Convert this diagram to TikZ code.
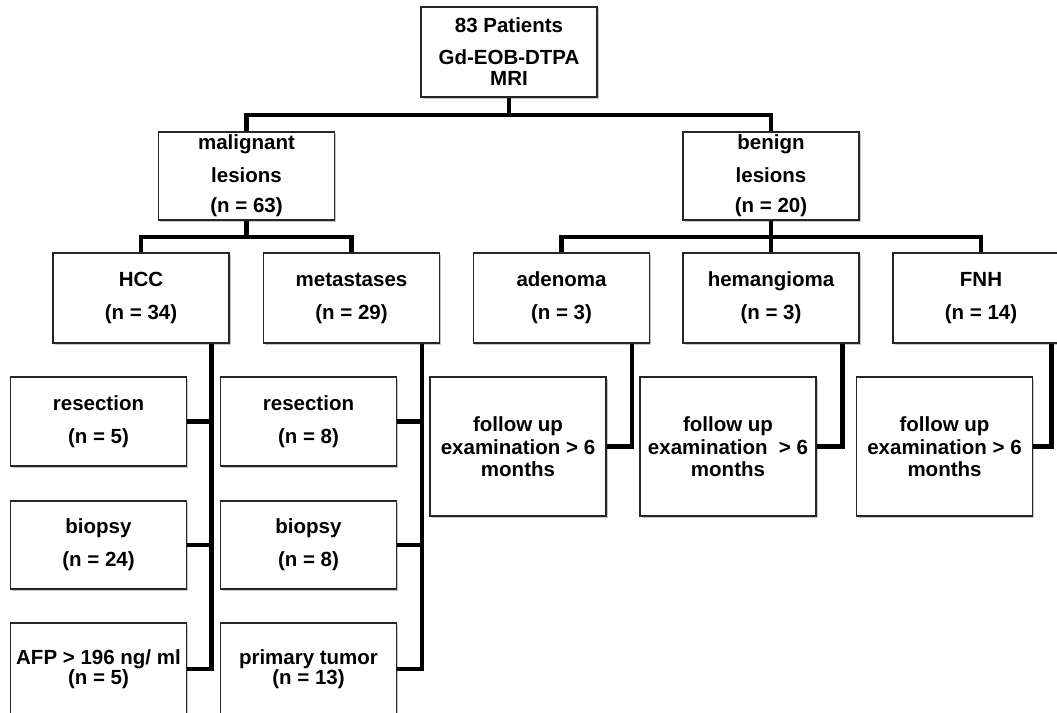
\documentclass[tikz,border=0pt]{standalone}
\usepackage{fontspec}
\setmainfont{Liberation Sans}
\usetikzlibrary{shadows,backgrounds}
\begin{document}
\begin{tikzpicture}[x=1pt,y=-1pt,
  box/.style={draw=black!85, line width=1.1pt, fill=white, inner sep=0pt, align=center,
    font=\fontsize{20.5}{21}\selectfont\bfseries,
    drop shadow={shadow xshift=1.5pt, shadow yshift=-2pt, fill=black, opacity=0.22}},
  wbox/.style={box, minimum width=176pt},
  conn/.style={line width=4.5pt, line join=miter, draw=black}]
\useasboundingbox (0,0) rectangle (1057,712);
\begin{scope}
\clip (0,0) rectangle (1057,712);
% level 0
\node[wbox, minimum height=90pt] (top) at (509,52) {83 Patients\\[11pt]Gd-EOB-DTPA\\MRI};
% level 1
\node[wbox, minimum height=88pt] (mal) at (246.5,176) {malignant\\[12pt]lesions\\[9pt](n = 63)};
\node[wbox, minimum height=88pt] (ben) at (771,176) {benign\\[12pt]lesions\\[9pt](n = 20)};
% level 2
\node[wbox, minimum height=90pt] (hcc) at (141,298) {HCC\\[12pt](n = 34)};
\node[wbox, minimum height=90pt] (met) at (351.5,298) {metastases\\[12pt](n = 29)};
\node[wbox, minimum height=90pt] (ade) at (561.5,298) {adenoma\\[12pt](n = 3)};
\node[wbox, minimum height=90pt] (hem) at (771,298) {hemangioma\\[12pt](n = 3)};
\node[wbox, minimum height=90pt] (fnh) at (981,298) {FNH\\[12pt](n = 14)};
% level 3, HCC
\node[wbox, minimum height=89pt] (res1) at (98.5,421.5) {resection\\[12pt](n = 5)};
\node[wbox, minimum height=88pt] (bio1) at (98.5,545) {biopsy\\[12pt](n = 24)};
\node[wbox, minimum height=92pt] (afp) at (98.5,669) {AFP > 196 ng/ ml\\[-1pt](n = 5)};
% level 3, metastases
\node[wbox, minimum height=89pt] (res2) at (308.5,421.5) {resection\\[12pt](n = 8)};
\node[wbox, minimum height=88pt] (bio2) at (308.5,545) {biopsy\\[12pt](n = 8)};
\node[wbox, minimum height=92pt] (pri) at (308.5,669) {primary tumor\\[-1pt](n = 13)};
% follow up
\node[wbox, minimum height=139pt] (fu1) at (518,446.5) {follow up\\[2pt]examination > 6\\[1pt]months};
\node[wbox, minimum height=139pt] (fu2) at (728,446.5) {follow up\\[2pt]examination\ \ > 6\\[1pt]months};
\node[wbox, minimum height=139pt] (fu3) at (944.5,446.5) {follow up\\[2pt]examination > 6\\[1pt]months};
\end{scope}
\begin{scope}[on background layer]
\coordinate (j0) at (509,115);
\coordinate (j1) at (246.5,237);
\coordinate (j2) at (771,237);
\draw[conn] (top.south) -- (j0) -| (mal.north);
\draw[conn] (j0) -| (ben.north);
\draw[conn] (mal.south) -- (j1) -| (hcc.north);
\draw[conn] (j1) -| (met.north);
\draw[conn] (ben.south) -- (j2) -| (ade.north);
\draw[conn] (j2) -| (fnh.north);
\draw[conn] (j2) -- (hem.north);
\draw[conn] ([xshift=-18pt]hcc.south east) |- (res1.east);
\draw[conn] ([xshift=-18pt]hcc.south east) |- (bio1.east);
\draw[conn] ([xshift=-18pt]hcc.south east) |- (afp.east);
\draw[conn] ([xshift=-18pt]met.south east) |- (res2.east);
\draw[conn] ([xshift=-18pt]met.south east) |- (bio2.east);
\draw[conn] ([xshift=-18pt]met.south east) |- (pri.east);
\draw[conn] ([xshift=-18pt]ade.south east) |- (fu1.east);
\draw[conn] ([xshift=-17pt]hem.south east) |- (fu2.east);
\draw[conn] ([xshift=-18pt]fnh.south east) |- (fu3.east);
\end{scope}
\end{tikzpicture}
\end{document}
